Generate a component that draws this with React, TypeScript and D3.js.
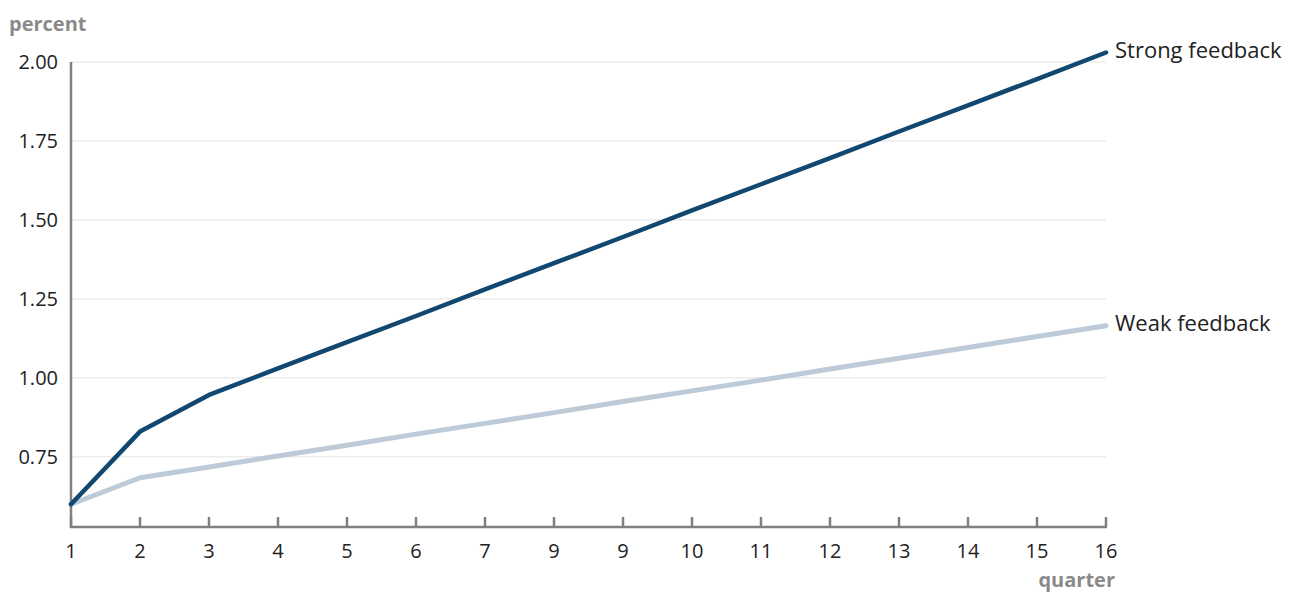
import React from "react";
import * as d3 from "d3";

const quarters = [1, 2, 3, 4, 5, 6, 7, 8, 9, 10, 11, 12, 13, 14, 15, 16];
const quarterLabels = ["1", "2", "3", "4", "5", "6", "7", "9", "9", "10", "11", "12", "13", "14", "15", "16"];
const strong = [0.6, 0.83, 0.946, 1.03, 1.113, 1.196, 1.28, 1.363, 1.446, 1.53, 1.613, 1.696, 1.78, 1.863, 1.946, 2.03];
const weak = [0.6, 0.684, 0.718, 0.753, 0.787, 0.822, 0.856, 0.89, 0.925, 0.959, 0.993, 1.028, 1.062, 1.096, 1.131, 1.165];
const yTicks = [0.75, 1.0, 1.25, 1.5, 1.75, 2.0];

const width = 1292;
const height = 593;
const font = "'Open Sans', sans-serif";

export default function App() {
  const x = d3.scaleLinear().domain([1, 16]).range([71, 1106]);
  const y = d3.scaleLinear().domain([0.528, 2.0]).range([527, 62]);
  const line = d3
    .line<number>()
    .x((_, i) => x(quarters[i]))
    .y((d) => y(d));

  return (
    <svg width={width} height={height} style={{ position: "absolute", left: 0, top: 0 }} fontFamily={font}>
      {/* grid */}
      {yTicks.map((t) => (
        <line key={t} x1={71} x2={1106} y1={y(t)} y2={y(t)} stroke="#e2e2e2" strokeWidth={1} />
      ))}
      {yTicks.map((t) => (
        <text key={t} x={58} y={y(t)} dy="0.35em" textAnchor="end" fontSize={20} fill="#222">
          {t.toFixed(2)}
        </text>
      ))}
      <text x={9} y={31} fontSize={20} fontWeight={700} fill="#8a8a8a">percent</text>

      {/* axes */}
      <g stroke="#808080" strokeWidth={2.5}>
        <line x1={71} x2={71} y1={62} y2={528} />
        <line x1={70} x2={1107} y1={527} y2={527} />
        {quarters.map((q) => (
          <line key={q} x1={x(q)} x2={x(q)} y1={517} y2={527} />
        ))}
      </g>
      {quarters.map((q, i) => (
        <text key={q} x={x(q)} y={558} textAnchor="middle" fontSize={20} fill="#222">
          {quarterLabels[i]}
        </text>
      ))}
      <text x={1115} y={587} textAnchor="end" fontSize={20} fontWeight={700} fill="#8a8a8a">quarter</text>

      {/* series */}
      <path d={line(weak) ?? ""} fill="none" stroke="#bccbd7" strokeWidth={5} strokeLinejoin="round" strokeLinecap="round" />
      <path d={line(strong) ?? ""} fill="none" stroke="#124870" strokeWidth={4.5} strokeLinejoin="round" strokeLinecap="round" />
      <text x={1115} y={y(strong[15])} dy="0.25em" fontSize={22} fill="#222">Strong feedback</text>
      <text x={1115} y={y(weak[15])} dy="0.25em" fontSize={22} fill="#222">Weak feedback</text>
    </svg>
  );
}
